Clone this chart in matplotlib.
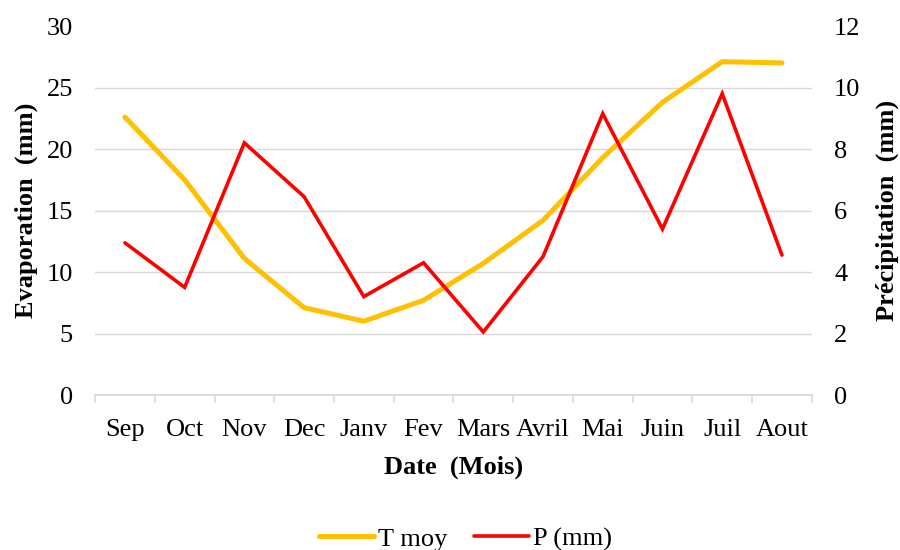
import matplotlib.pyplot as plt
import numpy as np

months = ['Sep', 'Oct', 'Nov', 'Dec', 'Janv', 'Fev', 'Mars', 'Avril',
          'Mai', 'Juin', 'Juil', 'Aout']
t_moy = [22.6, 17.5, 11.1, 7.1, 6.0, 7.7, 10.7, 14.2, 19.3, 23.8, 27.1, 27.0]
precip = [4.95, 3.5, 8.2, 6.45, 3.2, 4.3, 2.05, 4.5, 9.15, 5.4, 9.8, 4.55]

plt.rcParams['font.family'] = ['Liberation Serif', 'DejaVu Serif']

fig = plt.figure(figsize=(9, 5.5), dpi=100)
ax = fig.add_axes([0.1056, 0.2818, 0.7964, 0.6709])
ax2 = ax.twinx()

x = np.arange(len(months))
l1, = ax.plot(x, t_moy, color='#FFC000', lw=3.6, solid_capstyle='round',
              solid_joinstyle='round', label='T moy')
l2, = ax2.plot(x, precip, color='#FF0000', lw=2.6, solid_capstyle='round',
               solid_joinstyle='miter', label='P (mm)')

ax.set_xlim(-0.5, len(months) - 0.5)
ax.set_ylim(0, 30)
ax2.set_ylim(0, 12)
ax.set_yticks(np.arange(0, 31, 5))
ax2.set_yticks(np.arange(0, 13, 2))

# gridlines (none at the top value)
for v in range(5, 30, 5):
    ax.axhline(v, color='#D9D9D9', lw=1, zorder=0)

for a in (ax, ax2):
    for s in ('top', 'left', 'right'):
        a.spines[s].set_visible(False)
    a.spines['bottom'].set_color('#D9D9D9')
    a.spines['bottom'].set_linewidth(1.2)

ax.set_xticks(x)
ax.set_xticklabels(months)
ax.set_xticks(np.arange(-0.5, len(months)), minor=True)
ax.tick_params(axis='x', which='major', length=0, pad=17, labelsize=19)
ax.tick_params(axis='x', which='minor', length=6, color='#D9D9D9', width=1.2)
ax.tick_params(axis='y', length=0, pad=16, labelsize=19)
ax2.tick_params(axis='y', length=0, pad=16, labelsize=19)

ax.set_ylabel('Evaporation  (mm)', fontsize=19, fontweight='bold', labelpad=6)
ax2.set_ylabel('Précipitation  (mm)', fontsize=19, fontweight='bold', labelpad=11)
ax.set_xlabel('Date  (Mois)', fontsize=19, fontweight='bold', labelpad=11)

fig.legend([l1, l2], ['T moy', 'P (mm)'], loc='center', ncol=2,
           bbox_to_anchor=(0.517, 0.02), frameon=False, fontsize=19,
           handlelength=2.1, handletextpad=0.15, columnspacing=1.0)

fig.savefig('out.png', dpi=100)
